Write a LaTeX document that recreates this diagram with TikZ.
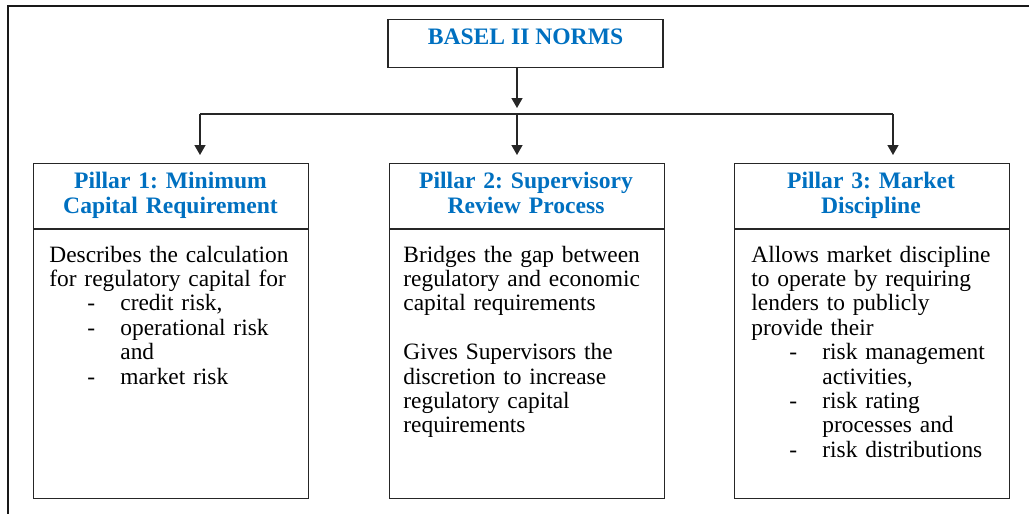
\documentclass[tikz,border=0pt]{standalone}
\usepackage{fontspec}
\setmainfont{Liberation Serif}
\usetikzlibrary{arrows.meta}
\definecolor{headblue}{RGB}{0,112,192}
\newcommand\pdash[1]{\hspace*{19pt}\makebox[16.5pt][l]{-}#1}
\newcommand\pcont[1]{\hspace*{35.5pt}#1}
\frenchspacing
\begin{document}
\begin{tikzpicture}[x=0.5pt,y=-0.5pt,
  boxline/.style={draw=black!85, line width=0.6pt},
  pillar/.style={boxline, rectangle, inner sep=0pt, minimum width=137.5pt, minimum height=167.5pt, anchor=north west},
  topbox/.style={boxline, rectangle, inner sep=0pt, minimum width=137.5pt, text height=12.5pt, text depth=11.5pt, anchor=north,
     font=\fontsize{11.8}{12.5}\selectfont\bfseries, text=headblue},
  head/.style={text width=137.5pt, align=center, inner sep=0pt, anchor=base,
     font=\fontsize{11.8}{12.5}\selectfont\bfseries, text=headblue},
  body/.style={text width=125pt, align=left, inner sep=0pt, anchor=base west,
     font=\fontsize{11.7}{12.2}\selectfont},
  conn/.style={draw=black!85, line width=0.7pt},
  arr/.style={conn, -{Triangle[width=5.5pt,length=5pt]}},
  frame/.style={draw=black!90, line width=1pt}
]
\useasboundingbox (0,0) rectangle (1029,514);
% outer frame (top and left edges)
\draw[frame] (8,514) -- (8,6) -- (1029,6);

% top box
\node[topbox] (basel) at (525.5,19) {BASEL II NORMS};

% pillar boxes
\node[pillar] (p1) at (33,163) {};
\node[pillar] (p2) at (389,163) {};
\node[pillar] (p3) at (734,163) {};

% header dividers
\coordinate (dv) at (0,229);
\draw[boxline] (p1.west |- dv) -- (p1.east |- dv);
\draw[boxline] (p2.west |- dv) -- (p2.east |- dv);
\draw[boxline] (p3.west |- dv) -- (p3.east |- dv);

% headings
\node[head] (h1) at (170.5,188) {Pillar 1: Minimum\\Capital Requirement};
\node[head] (h2) at (526,188) {Pillar 2: Supervisory\\Review Process};
\node[head] (h3) at (871,188) {Pillar 3: Market\\Discipline};

% bodies
\node[body] (b1) at (49,262) {Describes the calculation\\
for regulatory capital for\\
\pdash{credit risk,}\\
\pdash{operational risk}\\
\pcont{and}\\
\pdash{market risk}};
\node[body] (b2) at (403,262) {Bridges the gap between\\
regulatory and economic\\
capital requirements\\[12.2pt]
Gives Supervisors the\\
discretion to increase\\
regulatory capital\\
requirements};
\node[body] (b3) at (751,262) {Allows market discipline\\
to operate by requiring\\
lenders to publicly\\
provide their\\
\pdash{risk management}\\
\pcont{activities,}\\
\pdash{risk rating}\\
\pcont{processes and}\\
\pdash{risk distributions}};

% connectors
\coordinate (jl) at (200,114);
\coordinate (jc) at (517,114);
\coordinate (jr) at (893,114);
\draw[arr, shorten >=3pt] (basel.south -| jc) -- (jc);
\draw[conn] (jl) -- (jr);
\draw[arr, shorten >=4pt] (jl) -- (jl |- p1.north);
\draw[arr, shorten >=4pt] (jc) -- (jc |- p2.north);
\draw[arr, shorten >=4pt] (jr) -- (jr |- p3.north);
\end{tikzpicture}
\end{document}
